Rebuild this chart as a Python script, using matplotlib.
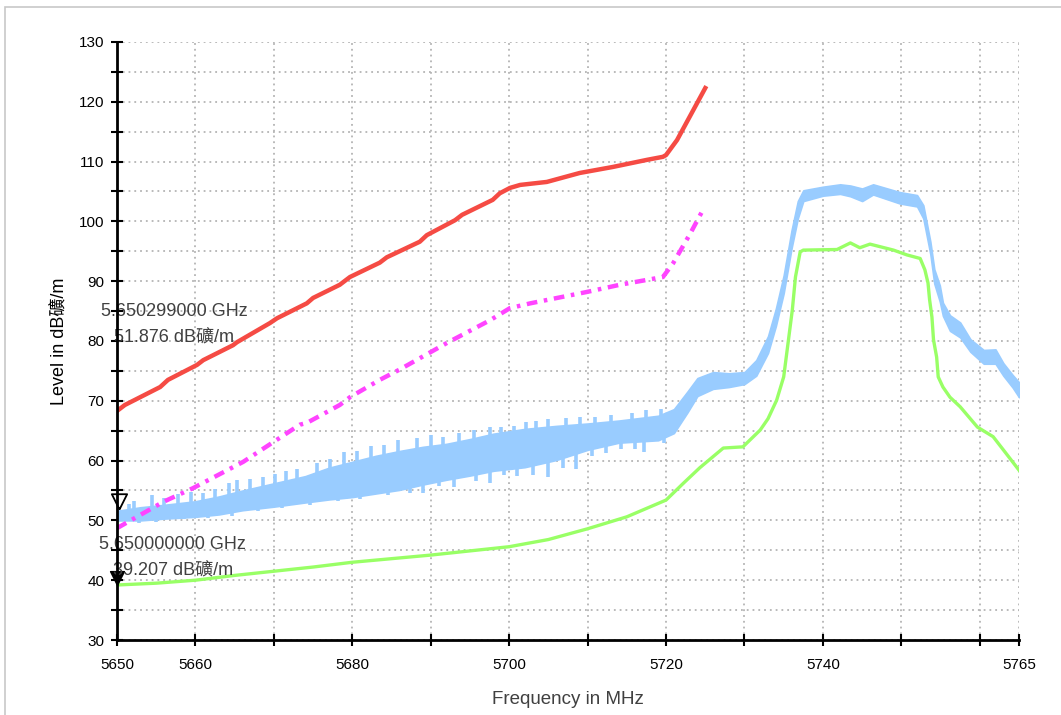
import numpy as np
import matplotlib
matplotlib.use("Agg")
import matplotlib.pyplot as plt
from matplotlib.patches import Rectangle

# --- Daten ---
# Grenzwertlinie (rot)
red_f = [5650, 5651, 5655.5, 5656.5, 5660.2, 5661, 5664.8, 5665.3, 5669.5, 5670.4,
         5674.2, 5675, 5678.4, 5679.7, 5683.5, 5684.4, 5688.6, 5689.5, 5693.1, 5694,
         5697.9, 5698.8, 5700.1, 5701.4, 5704.8, 5709, 5713.2, 5717.6, 5719.6, 5720,
         5721.4, 5725]
red_v = [68.3, 69.3, 72.3, 73.5, 76.0, 76.8, 79.3, 79.8, 83.0, 83.8,
         86.3, 87.2, 89.4, 90.7, 93.1, 94.0, 96.6, 97.7, 100.2, 101.1,
         103.6, 104.7, 105.6, 106.1, 106.6, 108.1, 109.1, 110.3, 110.8, 111.1,
         113.6, 122.3]

# Limit -10 dB (magenta)
mag_f = [5650, 5655.9, 5659.7, 5666.1, 5673.3, 5674.2, 5678.4, 5679.7, 5683.5, 5686,
         5692.1, 5697.6, 5700.1, 5702.7, 5709.9, 5714.1, 5719.6, 5720.9, 5723.1, 5724.9]
mag_v = [48.7, 53.1, 55.4, 59.8, 66.0, 66.3, 69.3, 70.6, 73.5, 75.2,
         79.7, 83.5, 85.5, 86.3, 88.2, 89.4, 90.7, 93.0, 98.0, 102.4]

# Peak-Trace (hellblau, verrauscht): untere / obere Huellkurve
blue_f = [5650, 5653, 5656, 5660, 5663, 5666, 5670, 5674, 5677, 5680,
          5683, 5686, 5689, 5692, 5695, 5698, 5702, 5706, 5710, 5714,
          5719, 5721, 5722.7, 5724, 5726, 5728, 5730, 5731.5, 5733, 5734,
          5735, 5736, 5736.8, 5737.5, 5740, 5742.2, 5743.5, 5745, 5746.4, 5749.8,
          5752, 5752.8, 5753.7, 5754.2, 5754.9, 5755.3, 5756.2, 5757.5, 5758.8, 5760.5,
          5762, 5763, 5764.2, 5765]
blue_lo = [50.0, 50.0, 50.3, 50.6, 51.0, 51.7, 52.3, 53.0, 53.5, 53.9,
           54.5, 55.1, 56.0, 56.8, 57.5, 58.3, 58.9, 60.1, 61.8, 63.0,
           63.4, 64.6, 68.0, 70.8, 72.0, 72.3, 72.8, 74.2, 78.0, 82.5,
           88.0, 95.5, 100.5, 103.4, 104.3, 104.6, 104.2, 103.4, 104.5, 103.0,
           102.5, 100.5, 94.5, 89.6, 86.6, 84.2, 81.7, 80.6, 78.2, 76.2,
           76.2, 74.2, 72.2, 70.6]
blue_hi = [51.6, 52.2, 52.6, 53.2, 54.0, 55.0, 56.2, 57.4, 58.8, 59.8,
           60.8, 61.6, 62.3, 62.8, 63.6, 64.5, 65.3, 65.8, 66.2, 66.7,
           67.5, 68.6, 71.5, 73.8, 74.8, 74.6, 74.8, 76.8, 80.8, 85.4,
           91.0, 98.5, 103.4, 105.2, 105.8, 106.2, 106.0, 105.5, 106.2, 104.9,
           104.4, 102.7, 96.6, 92.0, 89.3, 86.4, 84.3, 83.1, 80.3, 78.5,
           78.6, 76.3, 74.3, 73.1]
# einzelne Ausreisser des Rauschens (nach oben / nach unten)
up_f = [5651.5, 5652.2, 5654.4, 5656, 5657.8, 5659.4, 5661, 5662.5, 5664.3, 5665.3,
        5667, 5668.6, 5670.2, 5671.6, 5673, 5675.5, 5677.2, 5679, 5680.6, 5682.4,
        5684, 5685.8, 5688.2, 5690, 5691.5, 5693.6, 5695.5, 5697.5, 5699, 5700.6,
        5702.2, 5703.4, 5705, 5707.3, 5709, 5711, 5713, 5715.6, 5717.5, 5719.3]
up_v = [52.8, 53.2, 54.3, 53.8, 54.4, 54.8, 54.6, 55.2, 56.2, 56.8,
        57.0, 57.2, 57.8, 58.2, 58.6, 59.6, 60.2, 61.4, 61.6, 62.4,
        62.6, 63.4, 63.8, 64.3, 64.0, 64.6, 65.2, 65.6, 65.6, 65.8,
        66.4, 66.6, 66.9, 67.1, 67.3, 67.3, 67.6, 68.0, 68.5, 68.6]
dn_f = [5652.8, 5655, 5658.6, 5661.6, 5664.6, 5668, 5671, 5674.6, 5678.2, 5681,
        5684.5, 5687.4, 5689, 5691, 5693, 5695.8, 5697.6, 5699.3, 5701, 5703,
        5705, 5706.8, 5708.5, 5710.6, 5712.4, 5714.2, 5716, 5717.2, 5719.8]
dn_v = [49.6, 49.8, 50.2, 50.4, 50.8, 51.6, 52.0, 52.6, 53.2, 53.6,
        54.2, 54.6, 54.6, 55.8, 55.6, 56.6, 56.3, 57.6, 57.4, 57.6,
        57.3, 58.8, 58.6, 60.8, 61.2, 62.0, 62.0, 61.5, 63.0]

# Average-Trace (gruen)
green_f = [5650, 5655, 5660, 5665, 5670, 5675, 5680, 5685, 5690, 5695,
           5700, 5705, 5710, 5715, 5720, 5722.2, 5724.3, 5727.3, 5729.8, 5732,
           5733, 5734.1, 5735, 5736.1, 5736.5, 5737.1, 5737.5, 5741.8, 5743.5, 5744.7,
           5746, 5749, 5750.7, 5752.4, 5753, 5753.4, 5753.6, 5753.9, 5754.1, 5754.5,
           5754.7, 5755.3, 5756.2, 5757.5, 5759.7, 5761.7, 5763, 5765]
green_v = [39.2, 39.5, 40.0, 40.8, 41.5, 42.2, 43.0, 43.6, 44.2, 44.9,
           45.6, 46.8, 48.6, 50.6, 53.4, 56.2, 58.8, 62.1, 62.3, 65.1,
           67.0, 70.1, 74.0, 85.2, 90.7, 94.9, 95.2, 95.3, 96.4, 95.6,
           96.2, 95.2, 94.4, 93.8, 91.9, 89.7, 86.9, 84.0, 80.2, 77.3,
           74.0, 72.3, 70.6, 69.0, 65.6, 64.0, 61.8, 58.4]

# Marker
mk1 = (5650.299, 51.876)
mk2 = (5650.0, 39.207)
mk1_txt = ["5.650299000 GHz", "51.876 dB礦/m"]
mk2_txt = ["5.650000000 GHz", "39.207 dB礦/m"]

xticks_lab = [5650, 5660, 5680, 5700, 5720, 5740, 5765]

fam = ['Liberation Sans', 'Noto Sans CJK SC', 'DejaVu Sans']
plt.rcParams['font.family'] = fam

fig = plt.figure(figsize=(10.61, 7.15), dpi=100)
fig.patches.append(Rectangle((5/1061, -0.1), 1.2, 1 - 7/715 + 0.1, transform=fig.transFigure,
                             fill=False, edgecolor='#c8c8c8', linewidth=1.2))
ax = fig.add_axes([117/1061, 1 - 640/715, 902/1061, 598/715])

blue = '#99ccff'
ax.fill_between(blue_f, blue_lo, blue_hi, color=blue, linewidth=1.2, edgecolor=blue, zorder=2)
env_mid = (np.array(blue_lo) + np.array(blue_hi)) / 2
ax.vlines(up_f, np.interp(up_f, blue_f, env_mid), up_v, color=blue, linewidth=2.6, zorder=2)
ax.vlines(dn_f, dn_v, np.interp(dn_f, blue_f, env_mid), color=blue, linewidth=2.6, zorder=2)
ax.plot(green_f, green_v, color='#99ff66', linewidth=2.4, zorder=3)
ax.plot(mag_f, mag_v, color='#ff44ff', linewidth=3.2, dashes=(2.4, 1.5, 0.8, 1.5), zorder=4)
ax.plot(red_f, red_v, color='#f54b44', linewidth=3.2, zorder=5)

tri = [(0, 0), (-0.5, 1), (0.5, 1), (0, 0)]
ax.plot(*mk1, marker=tri, markersize=22, markerfacecolor='none', markeredgecolor='black',
        markeredgewidth=1.3, clip_on=False, zorder=6)
ax.plot(*mk2, marker=tri, markersize=20, markerfacecolor='black', markeredgecolor='black',
        clip_on=False, zorder=6)

for (txt, y) in zip(mk1_txt, [85.0, 80.6]):
    ax.text(5657.3, y, txt, ha='center', va='center', fontsize=13, color='#404040', zorder=7)
for (txt, y) in zip(mk2_txt, [46.0, 41.7]):
    ax.text(5657.1, y, txt, ha='center', va='center', fontsize=13, color='#404040', zorder=7)

ax.set_xlim(5650, 5765)
ax.set_ylim(30, 130)
ax.set_xticks(np.arange(5650, 5766, 10), minor=False)
ax.set_xticks([5765], minor=True)
ax.set_xticklabels([str(t) if t in xticks_lab else '' for t in range(5650, 5766, 10)])
ax.set_xticklabels(['5765'], minor=True)
ax.set_yticks(np.arange(30, 131, 5))
ax.set_yticklabels([str(t) if t % 10 == 0 else '' for t in range(30, 131, 5)])
ax.grid(True, which='both', color='#b4b4b4', linestyle=(0, (1, 2.2)), linewidth=1.3)
ax.set_axisbelow(True)

for lab in ax.get_xticklabels(which='both') + ax.get_yticklabels():
    lab.set_fontsize(11)
ax.tick_params(axis='both', which='both', direction='inout', length=8, width=1.5, color='black')
ax.tick_params(axis='x', which='both', pad=9)
ax.tick_params(axis='y', pad=5)
for s in ['top', 'right']:
    ax.spines[s].set_visible(False)
for s in ['left', 'bottom']:
    ax.spines[s].set_linewidth(2)
    ax.spines[s].set_zorder(8)

ax.set_xlabel('Frequency in MHz', fontsize=13.5, color='#404040', labelpad=14)
ax.set_ylabel('Level in dB礦/m', fontsize=13, labelpad=8)

fig.savefig('out.png', dpi=100)
